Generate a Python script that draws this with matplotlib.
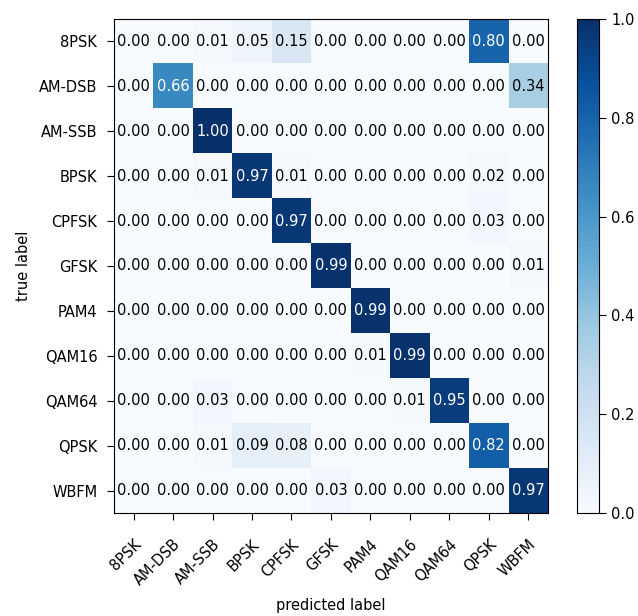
import numpy as np
import matplotlib.pyplot as plt

classes = ['8PSK', 'AM-DSB', 'AM-SSB', 'BPSK', 'CPFSK', 'GFSK',
           'PAM4', 'QAM16', 'QAM64', 'QPSK', 'WBFM']

# normalized confusion matrix, rows = true label, cols = predicted label
row_8psk = [0.00, 0.00, 0.01, 0.05, 0.15, 0.00, 0.00, 0.00, 0.00, 0.80, 0.00]
row_amdsb = [0.00, 0.66, 0.00, 0.00, 0.00, 0.00, 0.00, 0.00, 0.00, 0.00, 0.34]
row_amssb = [0.00, 0.00, 1.00, 0.00, 0.00, 0.00, 0.00, 0.00, 0.00, 0.00, 0.00]
row_bpsk = [0.00, 0.00, 0.01, 0.97, 0.01, 0.00, 0.00, 0.00, 0.00, 0.02, 0.00]
row_cpfsk = [0.00, 0.00, 0.00, 0.00, 0.97, 0.00, 0.00, 0.00, 0.00, 0.03, 0.00]
row_gfsk = [0.00, 0.00, 0.00, 0.00, 0.00, 0.99, 0.00, 0.00, 0.00, 0.00, 0.01]
row_pam4 = [0.00, 0.00, 0.004, 0.004, 0.00, 0.00, 0.99, 0.00, 0.00, 0.00, 0.00]
row_qam16 = [0.00, 0.00, 0.00, 0.00, 0.00, 0.00, 0.01, 0.99, 0.00, 0.00, 0.00]
row_qam64 = [0.00, 0.00, 0.03, 0.00, 0.00, 0.00, 0.00, 0.01, 0.95, 0.00, 0.00]
row_qpsk = [0.00, 0.00, 0.01, 0.09, 0.08, 0.00, 0.00, 0.00, 0.00, 0.82, 0.00]
row_wbfm = [0.00, 0.00, 0.00, 0.00, 0.00, 0.03, 0.00, 0.00, 0.00, 0.00, 0.97]

cm = np.array([row_8psk, row_amdsb, row_amssb, row_bpsk, row_cpfsk, row_gfsk,
               row_pam4, row_qam16, row_qam64, row_qpsk, row_wbfm])

fig = plt.figure(figsize=(6.38, 6.16), dpi=100)
ax = fig.add_axes([0.1787, 0.1672, 0.680, 0.802])
cax = fig.add_axes([0.904, 0.1672, 0.0345, 0.802])

im = ax.imshow(cm, interpolation='nearest', cmap=plt.cm.Blues,
               vmin=0, vmax=1, aspect='auto')
cb = fig.colorbar(im, cax=cax)
cb.ax.tick_params(labelsize=10.5, length=5, pad=4)

fs = 10.5
thresh = cm.max() / 2.
for i in range(cm.shape[0]):
    for j in range(cm.shape[1]):
        ax.text(j, i, format(cm[i, j], '.2f'),
                ha='center', va='center', fontsize=fs,
                color='white' if cm[i, j] > thresh else 'black')

ticks = np.arange(len(classes))
ax.set_xticks(ticks)
ax.set_xticklabels(classes, rotation=45, ha='right', rotation_mode='anchor', fontsize=fs)
ax.set_yticks(ticks)
ax.set_yticklabels(classes, fontsize=fs)
ax.tick_params(axis='y', length=5, pad=7)
ax.tick_params(axis='x', length=5, pad=12)
ax.set_ylabel('true label', fontsize=fs, labelpad=6)
ax.set_xlabel('predicted label', fontsize=fs, labelpad=7)

plt.savefig('out.png', dpi=100)
